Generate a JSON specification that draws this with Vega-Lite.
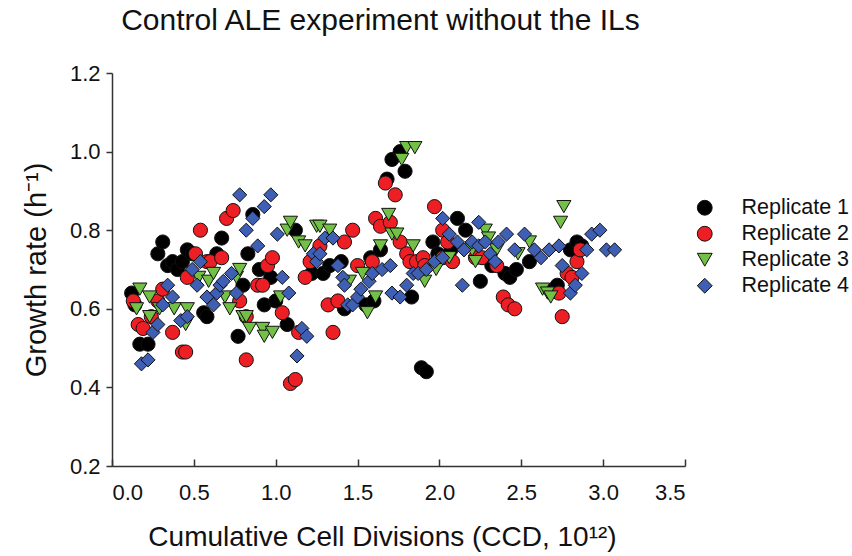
{
  "$schema": "https://vega.github.io/schema/vega-lite/v6.json",
  "width": 573,
  "height": 393,
  "autosize": {"type": "none"},
  "padding": {"left": 112, "top": 73, "right": 167, "bottom": 90},
  "background": "white",
  "config": {
    "font": "Liberation Sans",
    "view": {"stroke": null},
    "axis": {"grid": false, "domainColor": "#333333", "domainWidth": 1.5, "tickColor": "#333333", "tickWidth": 1.5, "labelColor": "#111111", "titleColor": "#111111", "labelFont": "Liberation Sans", "titleFont": "Liberation Sans", "titleFontWeight": "normal"}
  },
  "title": {"text": "Control ALE experiment without the ILs", "fontSize": 30, "fontWeight": "normal", "font": "Liberation Sans", "color": "#111111", "anchor": "middle", "frame": "group", "offset": 26, "dx": -18},
  "data": {"values": [
    {"Replicate": "Replicate 1", "x": 0.12, "y": 0.64},
    {"Replicate": "Replicate 1", "x": 0.14, "y": 0.61},
    {"Replicate": "Replicate 1", "x": 0.17, "y": 0.51},
    {"Replicate": "Replicate 1", "x": 0.22, "y": 0.51},
    {"Replicate": "Replicate 1", "x": 0.28, "y": 0.74},
    {"Replicate": "Replicate 1", "x": 0.31, "y": 0.77},
    {"Replicate": "Replicate 1", "x": 0.34, "y": 0.71},
    {"Replicate": "Replicate 1", "x": 0.37, "y": 0.72},
    {"Replicate": "Replicate 1", "x": 0.40, "y": 0.70},
    {"Replicate": "Replicate 1", "x": 0.43, "y": 0.72},
    {"Replicate": "Replicate 1", "x": 0.46, "y": 0.75},
    {"Replicate": "Replicate 1", "x": 0.49, "y": 0.74},
    {"Replicate": "Replicate 1", "x": 0.56, "y": 0.59},
    {"Replicate": "Replicate 1", "x": 0.58, "y": 0.58},
    {"Replicate": "Replicate 1", "x": 0.64, "y": 0.74},
    {"Replicate": "Replicate 1", "x": 0.67, "y": 0.78},
    {"Replicate": "Replicate 1", "x": 0.77, "y": 0.53},
    {"Replicate": "Replicate 1", "x": 0.80, "y": 0.66},
    {"Replicate": "Replicate 1", "x": 0.83, "y": 0.74},
    {"Replicate": "Replicate 1", "x": 0.86, "y": 0.84},
    {"Replicate": "Replicate 1", "x": 0.90, "y": 0.70},
    {"Replicate": "Replicate 1", "x": 0.93, "y": 0.61},
    {"Replicate": "Replicate 1", "x": 0.97, "y": 0.68},
    {"Replicate": "Replicate 1", "x": 1.00, "y": 0.62},
    {"Replicate": "Replicate 1", "x": 1.07, "y": 0.56},
    {"Replicate": "Replicate 1", "x": 1.12, "y": 0.80},
    {"Replicate": "Replicate 1", "x": 1.22, "y": 0.69},
    {"Replicate": "Replicate 1", "x": 1.29, "y": 0.69},
    {"Replicate": "Replicate 1", "x": 1.33, "y": 0.71},
    {"Replicate": "Replicate 1", "x": 1.40, "y": 0.72},
    {"Replicate": "Replicate 1", "x": 1.42, "y": 0.60},
    {"Replicate": "Replicate 1", "x": 1.55, "y": 0.61},
    {"Replicate": "Replicate 1", "x": 1.58, "y": 0.73},
    {"Replicate": "Replicate 1", "x": 1.60, "y": 0.62},
    {"Replicate": "Replicate 1", "x": 1.64, "y": 0.75},
    {"Replicate": "Replicate 1", "x": 1.68, "y": 0.93},
    {"Replicate": "Replicate 1", "x": 1.71, "y": 0.98},
    {"Replicate": "Replicate 1", "x": 1.76, "y": 1.00},
    {"Replicate": "Replicate 1", "x": 1.79, "y": 0.95},
    {"Replicate": "Replicate 1", "x": 1.83, "y": 0.63},
    {"Replicate": "Replicate 1", "x": 1.89, "y": 0.45},
    {"Replicate": "Replicate 1", "x": 1.92, "y": 0.44},
    {"Replicate": "Replicate 1", "x": 1.96, "y": 0.77},
    {"Replicate": "Replicate 1", "x": 1.99, "y": 0.74},
    {"Replicate": "Replicate 1", "x": 2.07, "y": 0.75},
    {"Replicate": "Replicate 1", "x": 2.11, "y": 0.83},
    {"Replicate": "Replicate 1", "x": 2.16, "y": 0.80},
    {"Replicate": "Replicate 1", "x": 2.25, "y": 0.67},
    {"Replicate": "Replicate 1", "x": 2.32, "y": 0.71},
    {"Replicate": "Replicate 1", "x": 2.40, "y": 0.69},
    {"Replicate": "Replicate 1", "x": 2.43, "y": 0.68},
    {"Replicate": "Replicate 1", "x": 2.47, "y": 0.70},
    {"Replicate": "Replicate 1", "x": 2.55, "y": 0.72},
    {"Replicate": "Replicate 1", "x": 2.70, "y": 0.65},
    {"Replicate": "Replicate 1", "x": 2.72, "y": 0.66},
    {"Replicate": "Replicate 1", "x": 2.80, "y": 0.75},
    {"Replicate": "Replicate 1", "x": 2.84, "y": 0.77},
    {"Replicate": "Replicate 1", "x": 2.87, "y": 0.76},
    {"Replicate": "Replicate 2", "x": 0.13, "y": 0.62},
    {"Replicate": "Replicate 2", "x": 0.16, "y": 0.56},
    {"Replicate": "Replicate 2", "x": 0.19, "y": 0.55},
    {"Replicate": "Replicate 2", "x": 0.24, "y": 0.58},
    {"Replicate": "Replicate 2", "x": 0.28, "y": 0.62},
    {"Replicate": "Replicate 2", "x": 0.31, "y": 0.65},
    {"Replicate": "Replicate 2", "x": 0.37, "y": 0.54},
    {"Replicate": "Replicate 2", "x": 0.43, "y": 0.49},
    {"Replicate": "Replicate 2", "x": 0.45, "y": 0.49},
    {"Replicate": "Replicate 2", "x": 0.46, "y": 0.68},
    {"Replicate": "Replicate 2", "x": 0.51, "y": 0.74},
    {"Replicate": "Replicate 2", "x": 0.54, "y": 0.80},
    {"Replicate": "Replicate 2", "x": 0.58, "y": 0.72},
    {"Replicate": "Replicate 2", "x": 0.60, "y": 0.72},
    {"Replicate": "Replicate 2", "x": 0.67, "y": 0.73},
    {"Replicate": "Replicate 2", "x": 0.70, "y": 0.83},
    {"Replicate": "Replicate 2", "x": 0.74, "y": 0.85},
    {"Replicate": "Replicate 2", "x": 0.78, "y": 0.62},
    {"Replicate": "Replicate 2", "x": 0.82, "y": 0.58},
    {"Replicate": "Replicate 2", "x": 0.82, "y": 0.47},
    {"Replicate": "Replicate 2", "x": 0.89, "y": 0.66},
    {"Replicate": "Replicate 2", "x": 0.92, "y": 0.66},
    {"Replicate": "Replicate 2", "x": 0.95, "y": 0.71},
    {"Replicate": "Replicate 2", "x": 0.98, "y": 0.73},
    {"Replicate": "Replicate 2", "x": 1.04, "y": 0.59},
    {"Replicate": "Replicate 2", "x": 1.09, "y": 0.41},
    {"Replicate": "Replicate 2", "x": 1.12, "y": 0.42},
    {"Replicate": "Replicate 2", "x": 1.14, "y": 0.54},
    {"Replicate": "Replicate 2", "x": 1.18, "y": 0.68},
    {"Replicate": "Replicate 2", "x": 1.21, "y": 0.72},
    {"Replicate": "Replicate 2", "x": 1.27, "y": 0.76},
    {"Replicate": "Replicate 2", "x": 1.32, "y": 0.61},
    {"Replicate": "Replicate 2", "x": 1.35, "y": 0.54},
    {"Replicate": "Replicate 2", "x": 1.38, "y": 0.62},
    {"Replicate": "Replicate 2", "x": 1.42, "y": 0.77},
    {"Replicate": "Replicate 2", "x": 1.47, "y": 0.80},
    {"Replicate": "Replicate 2", "x": 1.50, "y": 0.71},
    {"Replicate": "Replicate 2", "x": 1.59, "y": 0.72},
    {"Replicate": "Replicate 2", "x": 1.61, "y": 0.83},
    {"Replicate": "Replicate 2", "x": 1.64, "y": 0.81},
    {"Replicate": "Replicate 2", "x": 1.67, "y": 0.92},
    {"Replicate": "Replicate 2", "x": 1.70, "y": 0.82},
    {"Replicate": "Replicate 2", "x": 1.73, "y": 0.89},
    {"Replicate": "Replicate 2", "x": 1.76, "y": 0.77},
    {"Replicate": "Replicate 2", "x": 1.80, "y": 0.74},
    {"Replicate": "Replicate 2", "x": 1.82, "y": 0.72},
    {"Replicate": "Replicate 2", "x": 1.86, "y": 0.72},
    {"Replicate": "Replicate 2", "x": 1.90, "y": 0.73},
    {"Replicate": "Replicate 2", "x": 1.91, "y": 0.71},
    {"Replicate": "Replicate 2", "x": 1.97, "y": 0.86},
    {"Replicate": "Replicate 2", "x": 2.02, "y": 0.80},
    {"Replicate": "Replicate 2", "x": 2.02, "y": 0.73},
    {"Replicate": "Replicate 2", "x": 2.05, "y": 0.77},
    {"Replicate": "Replicate 2", "x": 2.08, "y": 0.72},
    {"Replicate": "Replicate 2", "x": 2.22, "y": 0.73},
    {"Replicate": "Replicate 2", "x": 2.26, "y": 0.73},
    {"Replicate": "Replicate 2", "x": 2.35, "y": 0.71},
    {"Replicate": "Replicate 2", "x": 2.39, "y": 0.63},
    {"Replicate": "Replicate 2", "x": 2.42, "y": 0.61},
    {"Replicate": "Replicate 2", "x": 2.46, "y": 0.60},
    {"Replicate": "Replicate 2", "x": 2.73, "y": 0.64},
    {"Replicate": "Replicate 2", "x": 2.75, "y": 0.58},
    {"Replicate": "Replicate 2", "x": 2.78, "y": 0.69},
    {"Replicate": "Replicate 2", "x": 2.81, "y": 0.68},
    {"Replicate": "Replicate 2", "x": 2.84, "y": 0.72},
    {"Replicate": "Replicate 2", "x": 2.86, "y": 0.75},
    {"Replicate": "Replicate 3", "x": 0.15, "y": 0.60},
    {"Replicate": "Replicate 3", "x": 0.17, "y": 0.65},
    {"Replicate": "Replicate 3", "x": 0.23, "y": 0.63},
    {"Replicate": "Replicate 3", "x": 0.23, "y": 0.58},
    {"Replicate": "Replicate 3", "x": 0.29, "y": 0.60},
    {"Replicate": "Replicate 3", "x": 0.38, "y": 0.60},
    {"Replicate": "Replicate 3", "x": 0.45, "y": 0.56},
    {"Replicate": "Replicate 3", "x": 0.46, "y": 0.60},
    {"Replicate": "Replicate 3", "x": 0.53, "y": 0.68},
    {"Replicate": "Replicate 3", "x": 0.59, "y": 0.67},
    {"Replicate": "Replicate 3", "x": 0.62, "y": 0.69},
    {"Replicate": "Replicate 3", "x": 0.69, "y": 0.63},
    {"Replicate": "Replicate 3", "x": 0.72, "y": 0.60},
    {"Replicate": "Replicate 3", "x": 0.76, "y": 0.68},
    {"Replicate": "Replicate 3", "x": 0.78, "y": 0.70},
    {"Replicate": "Replicate 3", "x": 0.80, "y": 0.58},
    {"Replicate": "Replicate 3", "x": 0.82, "y": 0.58},
    {"Replicate": "Replicate 3", "x": 0.84, "y": 0.55},
    {"Replicate": "Replicate 3", "x": 0.92, "y": 0.55},
    {"Replicate": "Replicate 3", "x": 0.93, "y": 0.53},
    {"Replicate": "Replicate 3", "x": 0.98, "y": 0.54},
    {"Replicate": "Replicate 3", "x": 1.03, "y": 0.63},
    {"Replicate": "Replicate 3", "x": 1.07, "y": 0.80},
    {"Replicate": "Replicate 3", "x": 1.09, "y": 0.82},
    {"Replicate": "Replicate 3", "x": 1.14, "y": 0.77},
    {"Replicate": "Replicate 3", "x": 1.18, "y": 0.76},
    {"Replicate": "Replicate 3", "x": 1.25, "y": 0.81},
    {"Replicate": "Replicate 3", "x": 1.27, "y": 0.81},
    {"Replicate": "Replicate 3", "x": 1.33, "y": 0.80},
    {"Replicate": "Replicate 3", "x": 1.45, "y": 0.67},
    {"Replicate": "Replicate 3", "x": 1.53, "y": 0.69},
    {"Replicate": "Replicate 3", "x": 1.56, "y": 0.59},
    {"Replicate": "Replicate 3", "x": 1.61, "y": 0.63},
    {"Replicate": "Replicate 3", "x": 1.64, "y": 0.76},
    {"Replicate": "Replicate 3", "x": 1.69, "y": 0.84},
    {"Replicate": "Replicate 3", "x": 1.71, "y": 0.79},
    {"Replicate": "Replicate 3", "x": 1.74, "y": 0.79},
    {"Replicate": "Replicate 3", "x": 1.77, "y": 0.98},
    {"Replicate": "Replicate 3", "x": 1.80, "y": 1.01},
    {"Replicate": "Replicate 3", "x": 1.85, "y": 1.01},
    {"Replicate": "Replicate 3", "x": 1.84, "y": 0.76},
    {"Replicate": "Replicate 3", "x": 1.91, "y": 0.67},
    {"Replicate": "Replicate 3", "x": 1.98, "y": 0.70},
    {"Replicate": "Replicate 3", "x": 2.06, "y": 0.73},
    {"Replicate": "Replicate 3", "x": 2.20, "y": 0.75},
    {"Replicate": "Replicate 3", "x": 2.22, "y": 0.72},
    {"Replicate": "Replicate 3", "x": 2.28, "y": 0.80},
    {"Replicate": "Replicate 3", "x": 2.30, "y": 0.78},
    {"Replicate": "Replicate 3", "x": 2.35, "y": 0.75},
    {"Replicate": "Replicate 3", "x": 2.48, "y": 0.74},
    {"Replicate": "Replicate 3", "x": 2.55, "y": 0.77},
    {"Replicate": "Replicate 3", "x": 2.63, "y": 0.65},
    {"Replicate": "Replicate 3", "x": 2.66, "y": 0.64},
    {"Replicate": "Replicate 3", "x": 2.68, "y": 0.63},
    {"Replicate": "Replicate 3", "x": 2.74, "y": 0.82},
    {"Replicate": "Replicate 3", "x": 2.76, "y": 0.86},
    {"Replicate": "Replicate 4", "x": 0.18, "y": 0.46},
    {"Replicate": "Replicate 4", "x": 0.22, "y": 0.47},
    {"Replicate": "Replicate 4", "x": 0.25, "y": 0.54},
    {"Replicate": "Replicate 4", "x": 0.28, "y": 0.56},
    {"Replicate": "Replicate 4", "x": 0.31, "y": 0.61},
    {"Replicate": "Replicate 4", "x": 0.34, "y": 0.66},
    {"Replicate": "Replicate 4", "x": 0.37, "y": 0.63},
    {"Replicate": "Replicate 4", "x": 0.42, "y": 0.57},
    {"Replicate": "Replicate 4", "x": 0.46, "y": 0.58},
    {"Replicate": "Replicate 4", "x": 0.49, "y": 0.70},
    {"Replicate": "Replicate 4", "x": 0.52, "y": 0.66},
    {"Replicate": "Replicate 4", "x": 0.54, "y": 0.72},
    {"Replicate": "Replicate 4", "x": 0.58, "y": 0.63},
    {"Replicate": "Replicate 4", "x": 0.62, "y": 0.61},
    {"Replicate": "Replicate 4", "x": 0.64, "y": 0.64},
    {"Replicate": "Replicate 4", "x": 0.66, "y": 0.66},
    {"Replicate": "Replicate 4", "x": 0.68, "y": 0.67},
    {"Replicate": "Replicate 4", "x": 0.73, "y": 0.69},
    {"Replicate": "Replicate 4", "x": 0.76, "y": 0.64},
    {"Replicate": "Replicate 4", "x": 0.78, "y": 0.89},
    {"Replicate": "Replicate 4", "x": 0.82, "y": 0.80},
    {"Replicate": "Replicate 4", "x": 0.86, "y": 0.83},
    {"Replicate": "Replicate 4", "x": 0.89, "y": 0.76},
    {"Replicate": "Replicate 4", "x": 0.93, "y": 0.86},
    {"Replicate": "Replicate 4", "x": 0.97, "y": 0.89},
    {"Replicate": "Replicate 4", "x": 1.01, "y": 0.79},
    {"Replicate": "Replicate 4", "x": 1.04, "y": 0.68},
    {"Replicate": "Replicate 4", "x": 1.08, "y": 0.64},
    {"Replicate": "Replicate 4", "x": 1.13, "y": 0.48},
    {"Replicate": "Replicate 4", "x": 1.16, "y": 0.55},
    {"Replicate": "Replicate 4", "x": 1.19, "y": 0.53},
    {"Replicate": "Replicate 4", "x": 1.23, "y": 0.74},
    {"Replicate": "Replicate 4", "x": 1.25, "y": 0.72},
    {"Replicate": "Replicate 4", "x": 1.27, "y": 0.74},
    {"Replicate": "Replicate 4", "x": 1.30, "y": 0.78},
    {"Replicate": "Replicate 4", "x": 1.35, "y": 0.78},
    {"Replicate": "Replicate 4", "x": 1.38, "y": 0.71},
    {"Replicate": "Replicate 4", "x": 1.41, "y": 0.68},
    {"Replicate": "Replicate 4", "x": 1.42, "y": 0.66},
    {"Replicate": "Replicate 4", "x": 1.44, "y": 0.61},
    {"Replicate": "Replicate 4", "x": 1.47, "y": 0.61},
    {"Replicate": "Replicate 4", "x": 1.50, "y": 0.63},
    {"Replicate": "Replicate 4", "x": 1.52, "y": 0.65},
    {"Replicate": "Replicate 4", "x": 1.57, "y": 0.67},
    {"Replicate": "Replicate 4", "x": 1.59, "y": 0.69},
    {"Replicate": "Replicate 4", "x": 1.65, "y": 0.70},
    {"Replicate": "Replicate 4", "x": 1.70, "y": 0.71},
    {"Replicate": "Replicate 4", "x": 1.71, "y": 0.64},
    {"Replicate": "Replicate 4", "x": 1.76, "y": 0.63},
    {"Replicate": "Replicate 4", "x": 1.80, "y": 0.66},
    {"Replicate": "Replicate 4", "x": 1.84, "y": 0.69},
    {"Replicate": "Replicate 4", "x": 1.87, "y": 0.69},
    {"Replicate": "Replicate 4", "x": 1.92, "y": 0.70},
    {"Replicate": "Replicate 4", "x": 1.97, "y": 0.72},
    {"Replicate": "Replicate 4", "x": 2.02, "y": 0.73},
    {"Replicate": "Replicate 4", "x": 2.02, "y": 0.83},
    {"Replicate": "Replicate 4", "x": 2.06, "y": 0.79},
    {"Replicate": "Replicate 4", "x": 2.11, "y": 0.77},
    {"Replicate": "Replicate 4", "x": 2.14, "y": 0.66},
    {"Replicate": "Replicate 4", "x": 2.15, "y": 0.75},
    {"Replicate": "Replicate 4", "x": 2.20, "y": 0.77},
    {"Replicate": "Replicate 4", "x": 2.24, "y": 0.82},
    {"Replicate": "Replicate 4", "x": 2.24, "y": 0.76},
    {"Replicate": "Replicate 4", "x": 2.28, "y": 0.77},
    {"Replicate": "Replicate 4", "x": 2.31, "y": 0.74},
    {"Replicate": "Replicate 4", "x": 2.34, "y": 0.72},
    {"Replicate": "Replicate 4", "x": 2.36, "y": 0.77},
    {"Replicate": "Replicate 4", "x": 2.41, "y": 0.79},
    {"Replicate": "Replicate 4", "x": 2.46, "y": 0.75},
    {"Replicate": "Replicate 4", "x": 2.52, "y": 0.79},
    {"Replicate": "Replicate 4", "x": 2.58, "y": 0.75},
    {"Replicate": "Replicate 4", "x": 2.62, "y": 0.73},
    {"Replicate": "Replicate 4", "x": 2.67, "y": 0.75},
    {"Replicate": "Replicate 4", "x": 2.73, "y": 0.76},
    {"Replicate": "Replicate 4", "x": 2.75, "y": 0.71},
    {"Replicate": "Replicate 4", "x": 2.80, "y": 0.64},
    {"Replicate": "Replicate 4", "x": 2.83, "y": 0.66},
    {"Replicate": "Replicate 4", "x": 2.87, "y": 0.69},
    {"Replicate": "Replicate 4", "x": 2.90, "y": 0.75},
    {"Replicate": "Replicate 4", "x": 2.93, "y": 0.79},
    {"Replicate": "Replicate 4", "x": 2.98, "y": 0.80},
    {"Replicate": "Replicate 4", "x": 3.02, "y": 0.75},
    {"Replicate": "Replicate 4", "x": 3.07, "y": 0.75}
  ]},
  "mark": {"type": "point", "filled": true, "stroke": "#111111", "strokeWidth": 1, "size": 200, "opacity": 1},
  "encoding": {
    "x": {"field": "x", "type": "quantitative", "scale": {"domain": [0, 3.5], "nice": false, "zero": false},
      "axis": {"title": "Cumulative Cell Divisions (CCD, 10¹²)", "values": [0, 0.5, 1, 1.5, 2, 2.5, 3, 3.5], "format": ".1f", "tickSize": -7, "labelPadding": 23, "labelFontSize": 22, "titleFontSize": 28, "titlePadding": 20, "titleX": 270}},
    "y": {"field": "y", "type": "quantitative", "scale": {"domain": [0.2, 1.2], "nice": false, "zero": false},
      "axis": {"title": "Growth rate (h⁻¹)", "values": [0.2, 0.4, 0.6, 0.8, 1.0, 1.2], "format": ".1f", "tickSize": 6, "labelPadding": 6, "labelFontSize": 22, "titleFontSize": 29, "titlePadding": 18}},
    "fill": {"field": "Replicate", "type": "nominal",
      "scale": {"domain": ["Replicate 1", "Replicate 2", "Replicate 3", "Replicate 4"], "range": ["#000000", "#ee1f24", "#72c146", "#3f5fb5"]},
      "legend": {"title": null, "orient": "none", "legendX": 582, "legendY": 124, "labelFontSize": 21.5, "labelColor": "#111111", "symbolSize": 220, "symbolStrokeColor": "#111111", "symbolStrokeWidth": 1, "labelOffset": 26, "rowPadding": 3, "labelFont": "Liberation Sans"}},
    "shape": {"field": "Replicate", "type": "nominal",
      "scale": {"domain": ["Replicate 1", "Replicate 2", "Replicate 3", "Replicate 4"], "range": ["circle", "circle", "triangle-down", "diamond"]}}
  }
}
